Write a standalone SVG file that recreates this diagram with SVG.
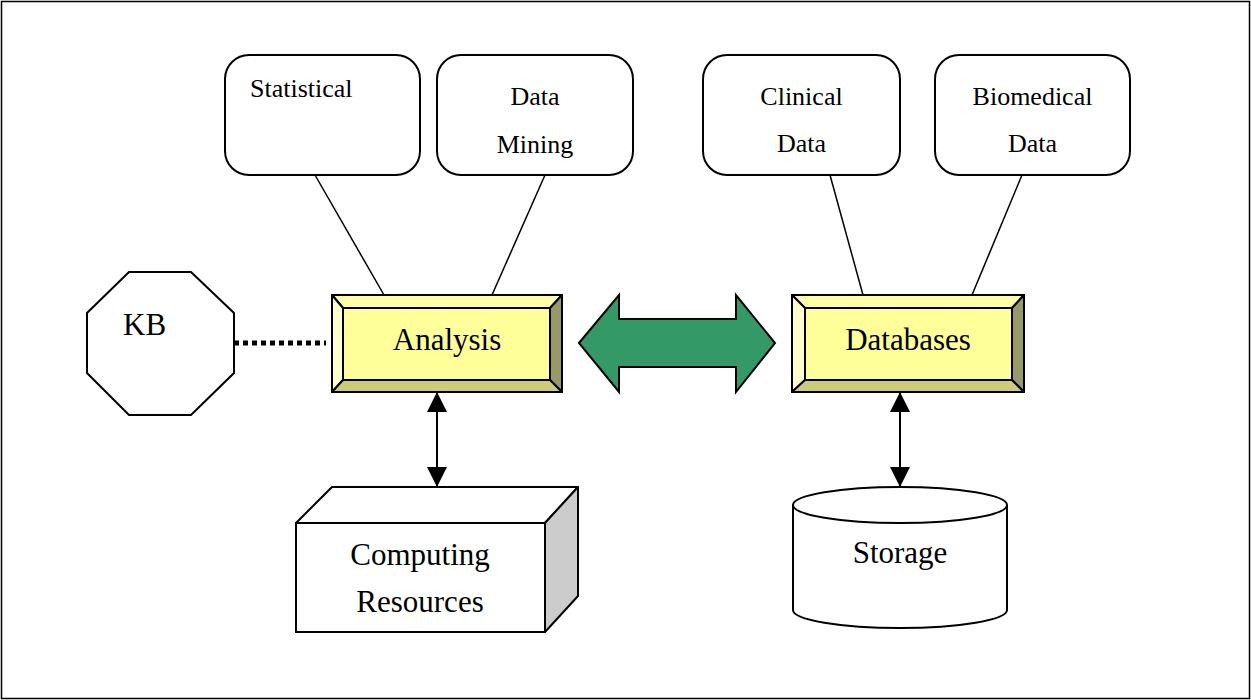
<svg xmlns="http://www.w3.org/2000/svg" width="1251" height="700" viewBox="0 0 1251 700">
<style>
text{font-family:"Liberation Serif","Times New Roman",serif;fill:#000}
.sm{font-size:26px}
.lg{font-size:31px}
.ln{stroke:#000;stroke-width:1.5;fill:none}
.box{fill:#fff;stroke:#000;stroke-width:2}
.bv{stroke:#000;stroke-width:2;stroke-linejoin:round}
</style>
<defs>
<marker id="ah" viewBox="0 0 20 20" refX="20" refY="10" markerWidth="20" markerHeight="20" markerUnits="userSpaceOnUse" orient="auto-start-reverse">
<path d="M0,0 L20,10 L0,20 Z" fill="#000"/>
</marker>
</defs>
<rect x="1.5" y="1.5" width="1248" height="697" fill="#fff" stroke="#000" stroke-width="1.5"/>
<g id="connectors">
<line class="ln" x1="315" y1="175" x2="384" y2="295"/>
<line class="ln" x1="545" y1="175" x2="492" y2="295"/>
<line class="ln" x1="830" y1="175" x2="863" y2="295"/>
<line class="ln" x1="1022" y1="175" x2="972" y2="295"/>
<line x1="234" y1="343" x2="326" y2="343" stroke="#000" stroke-width="5" stroke-dasharray="5,4"/>
<line x1="437" y1="392" x2="437" y2="487" stroke="#000" stroke-width="2" marker-start="url(#ah)" marker-end="url(#ah)"/>
<line x1="900" y1="392" x2="900" y2="487" stroke="#000" stroke-width="2" marker-start="url(#ah)" marker-end="url(#ah)"/>
<path id="bigarrow" d="M579,343 L619,295 L619,319 L736,319 L736,295 L775,343 L736,392 L736,367 L619,367 L619,392 Z" fill="#339966" stroke="#000" stroke-width="2" stroke-linejoin="miter"/>
</g>
<g id="statistical">
<rect class="box" x="225" y="55" width="195" height="120" rx="24"/>
<text class="sm" x="250" y="97">Statistical</text>
</g>
<g id="datamining">
<rect class="box" x="437" y="55" width="196" height="120" rx="24"/>
<text class="sm" x="535" y="105" text-anchor="middle">Data</text>
<text class="sm" x="535" y="153" text-anchor="middle">Mining</text>
</g>
<g id="clinical">
<rect class="box" x="703" y="55" width="197" height="120" rx="24"/>
<text class="sm" x="801.5" y="105" text-anchor="middle">Clinical</text>
<text class="sm" x="801.5" y="152" text-anchor="middle">Data</text>
</g>
<g id="biomedical">
<rect class="box" x="935" y="55" width="195" height="120" rx="24"/>
<text class="sm" x="1032.5" y="105" text-anchor="middle">Biomedical</text>
<text class="sm" x="1032.5" y="152" text-anchor="middle">Data</text>
</g>
<g id="kb">
<polygon points="129,272 191,272 234,313 234,373 191,415 129,415 87,373 87,313" fill="#fff" stroke="#000" stroke-width="2"/>
<text class="lg" x="123" y="335">KB</text>
</g>
<g id="analysis">
<polygon class="bv" points="332,295 562,295 550,308 343,308" fill="#FFFFA6"/>
<polygon class="bv" points="332,295 343,308 343,380 332,392" fill="#FFFFCC"/>
<polygon class="bv" points="562,295 562,392 550,380 550,308" fill="#999966"/>
<polygon class="bv" points="332,392 343,380 550,380 562,392" fill="#CCCC77"/>
<rect class="bv" x="343" y="308" width="207" height="72" fill="#FFFF99"/>
<text class="lg" x="447" y="350" text-anchor="middle">Analysis</text>
</g>
<g id="databases">
<polygon class="bv" points="792,295 1024,295 1012,308 805,308" fill="#FFFFA6"/>
<polygon class="bv" points="792,295 805,308 805,380 792,392" fill="#FFFFCC"/>
<polygon class="bv" points="1024,295 1024,392 1012,380 1012,308" fill="#999966"/>
<polygon class="bv" points="792,392 805,380 1012,380 1024,392" fill="#CCCC77"/>
<rect class="bv" x="805" y="308" width="207" height="72" fill="#FFFF99"/>
<text class="lg" x="908" y="350" text-anchor="middle">Databases</text>
</g>
<g id="computing">
<polygon points="296,523 332,487 578,487 545,523" fill="#fff" stroke="#000" stroke-width="2" stroke-linejoin="round"/>
<polygon points="545,523 578,487 578,596 545,632" fill="#CCCCCC" stroke="#000" stroke-width="2" stroke-linejoin="round"/>
<rect x="296" y="523" width="249" height="109" fill="#fff" stroke="#000" stroke-width="2"/>
<text class="lg" x="420" y="565" text-anchor="middle">Computing</text>
<text class="lg" x="420" y="612" text-anchor="middle">Resources</text>
</g>
<g id="storage">
<path d="M793,505 L793,610 A107,18 0 0 0 1007,610 L1007,505" fill="#fff" stroke="#000" stroke-width="2"/>
<ellipse cx="900" cy="505" rx="107" ry="18" fill="#fff" stroke="#000" stroke-width="2"/>
<text class="lg" x="900" y="563" text-anchor="middle">Storage</text>
</g>
</svg>
